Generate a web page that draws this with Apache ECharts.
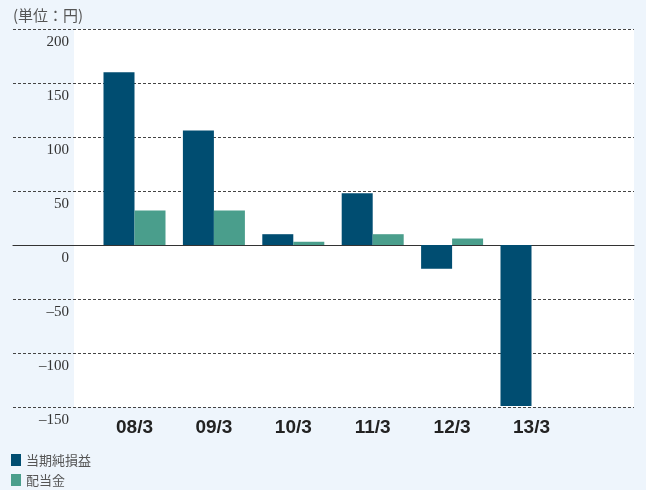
<!DOCTYPE html>
<html>
<head>
<meta charset="utf-8">
<script src="https://cdn.jsdelivr.net/npm/echarts@6/dist/echarts.min.js"></script>
<style>
  html, body { margin: 0; padding: 0; background: #eef5fc; }
  #main { width: 646px; height: 490px; }
</style>
</head>
<body>
<div id="main"></div>
<script>
// データ
var categories = ['08/3', '09/3', '10/3', '11/3', '12/3', '13/3'];
var netIncome = [160, 106, 10, 48, -22, -149];   // 当期純損益
var dividend = [32, 32, 3, 10, 6, 0];            // 配当金
var yTicks = { min: -150, max: 200, interval: 50 };

var darkBlue = '#004d71';
var teal = '#4a9e8c';

function renderChart() {
  var myChart = echarts.init(document.getElementById('main'));
  var options = {
    backgroundColor: '#eef5fc',
    animation: false,
    title: {
      text: '(単位：円)',
      left: 8,
      top: 3,
      textStyle: { fontSize: 15, fontWeight: 'normal', color: '#555', fontFamily: 'Noto Sans CJK JP' }
    },
    legend: {
      orient: 'vertical',
      left: 11,
      top: 452,
      height: 40,
      padding: 0,
      itemWidth: 10,
      itemHeight: 12,
      itemGap: 4,
      icon: 'rect',
      textStyle: { fontSize: 13, lineHeight: 16, color: '#555', fontFamily: 'Noto Sans CJK JP' },
      data: ['当期純損益', '配当金']
    },
    grid: [
      // 白い背景
      { left: 74, right: 12, top: 29, bottom: 83, show: true, backgroundColor: '#fff', borderWidth: 0 },
      // 目盛線
      { left: 13, right: 12, top: 29, bottom: 83 },
      // 棒グラフ
      { left: 94.8, width: 476.4, top: 29, bottom: 83 }
    ],
    xAxis: [
      { gridIndex: 0, type: 'value', show: false },
      {
        gridIndex: 1, type: 'value', min: 0, max: 1,
        axisLine: { show: true, onZero: true, lineStyle: { color: '#333', width: 1.2 } },
        axisTick: { show: false }, axisLabel: { show: false }, splitLine: { show: false }
      },
      {
        gridIndex: 2, type: 'category', data: categories,
        axisLine: { show: false, onZero: false },
        axisTick: { show: false },
        axisLabel: {
          margin: 11,
          fontSize: 19,
          fontWeight: 'bold',
          color: '#222',
          fontFamily: 'Liberation Sans Narrow, Liberation Sans, sans-serif'
        }
      }
    ],
    yAxis: [
      { gridIndex: 0, type: 'value', show: false },
      {
        gridIndex: 1, type: 'value',
        min: yTicks.min, max: yTicks.max, interval: yTicks.interval,
        axisLine: { show: false }, axisTick: { show: false },
        splitLine: { show: true, lineStyle: { color: '#444', type: [3, 2], width: 1 } },
        axisLabel: {
          inside: true,
          margin: 56,
          align: 'right',
          verticalAlign: 'top',
          lineHeight: 27,
          fontSize: 15,
          color: '#333',
          fontFamily: 'Liberation Serif, serif',
          formatter: function (v) { return String(v).replace('-', '–'); }
        }
      },
      {
        gridIndex: 2, type: 'value',
        min: yTicks.min, max: yTicks.max, interval: yTicks.interval,
        show: false
      }
    ],
    series: [
      {
        name: '当期純損益', type: 'bar', xAxisIndex: 2, yAxisIndex: 2,
        data: netIncome, barWidth: 31, barGap: '0%',
        itemStyle: { color: darkBlue }, z: 3
      },
      {
        name: '配当金', type: 'bar', xAxisIndex: 2, yAxisIndex: 2,
        data: dividend, barWidth: 31, barGap: '0%',
        itemStyle: { color: teal }, z: 3
      }
    ]
  };
  myChart.setOption(options, true);
}

renderChart();
</script>
</body>
</html>
